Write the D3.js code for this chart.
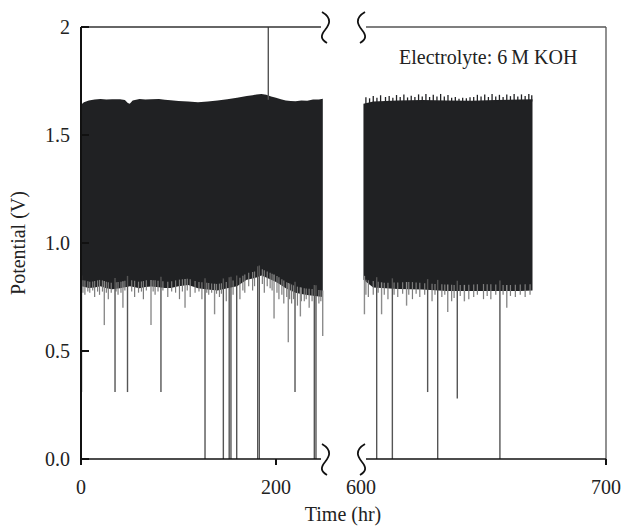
<!DOCTYPE html>
<html>
<head>
<meta charset="utf-8">
<script src="https://cdn.jsdelivr.net/npm/d3@7"></script>
<style>
  body { margin: 0; background: #fff; }
  text { font-family: "Liberation Serif", "DejaVu Serif", serif; fill: #222; }
</style>
</head>
<body>
<div id="chart"></div>
<script>
// envelopes of the cycling band [time hr, potential V]
const leftUpper = [[0,1.64],[3,1.652],[8,1.66],[14,1.664],[20,1.667],[26,1.664],[32,1.666],[40,1.666],[45,1.662],[48,1.648],[50,1.645],[53,1.66],[60,1.667],[66,1.664],[72,1.666],[80,1.667],[86,1.663],[92,1.661],[100,1.657],[110,1.655],[120,1.652],[130,1.655],[140,1.66],[150,1.665],[160,1.672],[170,1.68],[176,1.684],[180,1.688],[185,1.69],[190,1.686],[195,1.678],[200,1.673],[205,1.666],[210,1.66],[215,1.657],[220,1.656],[226,1.66],[232,1.658],[238,1.664],[244,1.664],[248,1.668]];
const leftLower = [[0,0.80],[10,0.79],[20,0.80],[30,0.785],[40,0.79],[50,0.80],[60,0.79],[70,0.80],[80,0.795],[90,0.79],[100,0.80],[110,0.805],[120,0.79],[130,0.785],[140,0.78],[150,0.79],[160,0.80],[170,0.83],[180,0.84],[185,0.85],[190,0.84],[200,0.82],[210,0.79],[220,0.77],[230,0.76],[240,0.755],[248,0.75]];
const rightUpper = [[601,1.645],[605,1.655],[615,1.66],[625,1.662],[635,1.66],[645,1.658],[655,1.662],[665,1.664],[670,1.665]];
const rightLower = [[601,0.83],[602,0.80],[610,0.785],[620,0.79],[630,0.78],[640,0.775],[650,0.78],[660,0.775],[670,0.78]];
// narrow upward teeth on the right band [time hr, peak V]
const rightTeeth = [[602,1.675],[603.5,1.67],[605,1.68],[606.5,1.672],[608,1.684],[610,1.676],[611.5,1.68],[613,1.672],[614.5,1.685],[616,1.676],[617.5,1.688],[619,1.674],[620.5,1.682],[622,1.676],[623.5,1.688],[625,1.678],[626.5,1.69],[628,1.676],[629.5,1.686],[631,1.678],[632.5,1.69],[634,1.678],[635.5,1.685],[637,1.672],[638.5,1.676],[640,1.668],[641.5,1.672],[643,1.67],[644.5,1.675],[646,1.676],[647.5,1.686],[649,1.678],[650.5,1.688],[652,1.676],[653.5,1.69],[655,1.678],[656.5,1.686],[658,1.676],[659.5,1.688],[661,1.68],[662.5,1.69],[664,1.678],[665.5,1.688],[667,1.68],[668.5,1.69],[669.7,1.684]];

// downward drops [time hr, lowest potential V]
const deepDrops = [[0.5,0.31],[34.9,0.31],[47.7,0.31],[82,0.31],[127.2,0],[146,0],[152,0],[153.8,0],[159.7,0],[181.2,0],[182.9,0],[219.5,0.31],[239.3,0],[241,0],
  [606.4,0],[612.8,0],[627.2,0.31],[631.3,0],[639.3,0.28],[656.7,0]];
const midDrops = [[23.9,0.62],[43,0.70],[71.8,0.62],[106.7,0.70],[137,0.67],[198,0.65],[212.6,0.54],[225,0.66],[247.9,0.57],
  [601.4,0.67],[608.4,0.67],[618.6,0.71],[635.4,0.68],[642.2,0.73],[659.5,0.70]];
const smallDrops = [[2,0.77],[4,0.76],[7,0.775],[9,0.77],[12,0.78],[14,0.75],[17,0.775],[19,0.76],[22,0.775],[26,0.77],[28,0.74],[31,0.77],[36,0.775],[38,0.76],[41,0.77],[45,0.78],[52,0.775],[55,0.75],[59,0.77],[62,0.775],[64,0.74],[67,0.78],[74,0.775],[76,0.76],[79,0.775],[84,0.78],[89,0.75],[93,0.775],[97,0.77],[101,0.74],[104,0.775],[109,0.78],[112,0.75],[117,0.77],[121,0.775],[124,0.74],[129,0.77],[131,0.76],[134,0.77],[139,0.765],[142,0.75],[144,0.765],[149,0.73],[156,0.76],[163,0.74],[166,0.78],[168,0.77],[172,0.8],[176,0.78],[178,0.8],[186,0.81],[188,0.77],[191,0.8],[194,0.79],[196,0.78],[201,0.77],[203,0.74],[206,0.76],[208,0.72],[211,0.75],[214,0.74],[216,0.72],[218,0.74],[222,0.71],[226,0.73],[229,0.73],[231,0.74],[234,0.70],[237,0.73],[244,0.72],[246,0.73],
  [602,0.76],[603,0.75],[605,0.76],[607,0.77],[609.5,0.76],[611,0.74],[613.5,0.76],[615,0.75],[617,0.765],[619.5,0.76],[621,0.74],[622.5,0.765],[624,0.75],[626,0.76],[629,0.73],[630.2,0.76],[633,0.75],[634.2,0.76],[637,0.73],[638,0.745],[640.5,0.755],[644,0.74],[646,0.75],[647.5,0.76],[650,0.74],[651.5,0.755],[653,0.74],[655,0.76],[658,0.76],[661,0.755],[663,0.75],[665,0.76],[667,0.75],[669,0.76]];
const upDrops = [[192.1,2.0]];

const yTicks = [0, 0.5, 1.0, 1.5, 2];
const yTickLabels = ["0.0", "0.5", "1.0", "1.5", "2"];
const leftTicks = [0, 200];
const rightTicks = [600, 700];

const width = 624, height = 526;
const plotTop = 27, plotBottom = 459, plotLeft = 81, plotRight = 606;

const svg = d3.select("#chart").append("svg")
    .attr("width", width).attr("height", height);

const y = d3.scaleLinear().domain([0, 2]).range([plotBottom, plotTop]);
const xL = d3.scaleLinear().domain([0, 250]).range([plotLeft, 324.75]);
const xR = d3.scaleLinear().domain([600, 700]).range([361, plotRight]);

// clip each panel
const defs = svg.append("defs");
defs.append("clipPath").attr("id", "clipL").append("rect")
    .attr("x", plotLeft).attr("y", plotTop).attr("width", 324 - plotLeft).attr("height", plotBottom - plotTop);
defs.append("clipPath").attr("id", "clipR").append("rect")
    .attr("x", 361).attr("y", plotTop).attr("width", plotRight - 361).attr("height", plotBottom - plotTop);

const bandColor = "#202123";

function drawPanel(x, upper, lower, teeth, clip, lo, hi) {
    let g = svg.append("g").attr("clip-path", `url(#${clip})`);
    let inPanel = d => d[0] >= lo && d[0] <= hi;
    // band as area between lower and upper envelope
    let lowAt = d3.scaleLinear().domain(lower.map(e => e[0])).range(lower.map(e => e[1])).clamp(true);
    let highAt = d3.scaleLinear().domain(upper.map(e => e[0])).range(upper.map(e => e[1])).clamp(true);
    let band = upper.map(d => ({ t: d[0], hi: d[1], lo: lowAt(d[0]) }));
    g.append("path")
        .datum(band)
        .attr("fill", bandColor)
        .attr("d", d3.area().x(d => x(d.t)).y0(d => y(d.lo)).y1(d => y(d.hi)));

    g.selectAll(".tooth").data(teeth).join("line")
        .attr("x1", d => x(d[0])).attr("x2", d => x(d[0]))
        .attr("y1", d => y(highAt(d[0]) - 0.01)).attr("y2", d => y(d[1]))
        .attr("stroke", bandColor).attr("stroke-width", 1.3);

    g.selectAll(".small").data(smallDrops.filter(inPanel)).join("line")
        .attr("x1", d => x(d[0])).attr("x2", d => x(d[0]))
        .attr("y1", d => y(lowAt(d[0]) + 0.03)).attr("y2", d => y(d[1]))
        .attr("stroke", "#7d7d7d").attr("stroke-width", 1.2);
    g.selectAll(".mid").data(midDrops.filter(inPanel)).join("line")
        .attr("x1", d => x(d[0])).attr("x2", d => x(d[0]))
        .attr("y1", d => y(lowAt(d[0]) + 0.03)).attr("y2", d => y(d[1]))
        .attr("stroke", "#8c8c8c").attr("stroke-width", 1.4);
    g.selectAll(".deep").data(deepDrops.filter(inPanel)).join("line")
        .attr("x1", d => x(d[0])).attr("x2", d => x(d[0]))
        .attr("y1", d => y(lowAt(d[0]) + 0.05)).attr("y2", d => y(d[1]))
        .attr("stroke", "#555").attr("stroke-width", 1.4);
    g.selectAll(".up").data(upDrops.filter(inPanel)).join("line")
        .attr("x1", d => x(d[0])).attr("x2", d => x(d[0]))
        .attr("y1", d => y(highAt(d[0]) - 0.02)).attr("y2", d => y(d[1]))
        .attr("stroke", "#555").attr("stroke-width", 1.4);
}

drawPanel(xL, leftUpper, leftLower, [], "clipL", 0, 250);
drawPanel(xR, rightUpper, rightLower, rightTeeth, "clipR", 600, 700);

// frame
const frame = svg.append("g").attr("fill", "none");
frame.append("line").attr("x1", plotLeft).attr("x2", plotLeft).attr("y1", plotTop).attr("y2", plotBottom + 6)
    .attr("stroke", "#111").attr("stroke-width", 2);
frame.append("line").attr("x1", plotLeft).attr("x2", 321).attr("y1", plotTop).attr("y2", plotTop)
    .attr("stroke", "#333").attr("stroke-width", 1.3);
frame.append("line").attr("x1", 366).attr("x2", plotRight).attr("y1", plotTop).attr("y2", plotTop)
    .attr("stroke", "#555").attr("stroke-width", 1.3);
frame.append("line").attr("x1", plotRight).attr("x2", plotRight).attr("y1", plotTop).attr("y2", plotBottom)
    .attr("stroke", "#555").attr("stroke-width", 1.3);
frame.append("line").attr("x1", plotLeft).attr("x2", 321).attr("y1", plotBottom).attr("y2", plotBottom)
    .attr("stroke", "#111").attr("stroke-width", 1.5);
frame.append("line").attr("x1", 366).attr("x2", plotRight).attr("y1", plotBottom).attr("y2", plotBottom)
    .attr("stroke", "#111").attr("stroke-width", 1.5);

// break marks
function squiggle(cx, cy, dir) {
    let p = d3.path();
    p.moveTo(cx - 3 * dir, cy - 15);
    p.bezierCurveTo(cx + 9 * dir, cy - 8, cx + 3 * dir, cy - 1, cx, cy + 3);
    p.bezierCurveTo(cx - 4 * dir, cy + 8, cx - 5 * dir, cy + 12, cx + 2 * dir, cy + 16);
    return p.toString();
}
[[325, plotTop, 1], [362, plotTop, -1], [325, plotBottom, 1], [362, plotBottom, -1]].forEach(function (s) {
    frame.append("path").attr("d", squiggle(s[0], s[1], s[2]))
        .attr("stroke", "#111").attr("stroke-width", 1.8);
});

// y ticks
svg.selectAll(".ytick").data(yTicks).join("line")
    .attr("x1", plotLeft).attr("x2", plotLeft + 8)
    .attr("y1", d => y(d)).attr("y2", d => y(d))
    .attr("stroke", "#111").attr("stroke-width", 2);
svg.selectAll(".ylab").data(yTicks).join("text")
    .attr("x", 70).attr("y", d => y(d) + 7)
    .attr("text-anchor", "end").attr("font-size", 20)
    .text((d, i) => yTickLabels[i]);

// x ticks
function xTicks(x, ticks, showLine) {
    svg.selectAll(null).data(ticks).join("line")
        .attr("x1", d => x(d)).attr("x2", d => x(d))
        .attr("y1", plotBottom).attr("y2", plotBottom + 6)
        .attr("stroke", d => showLine(d) ? "#111" : "none").attr("stroke-width", 2);
    svg.selectAll(null).data(ticks).join("text")
        .attr("x", d => x(d)).attr("y", 494)
        .attr("text-anchor", "middle").attr("font-size", 20)
        .text(d => d);
}
xTicks(xL, leftTicks, d => true);
xTicks(xR, rightTicks, d => d !== 600);

svg.append("text").attr("x", 343).attr("y", 521)
    .attr("text-anchor", "middle").attr("font-size", 20).text("Time (hr)");
svg.append("text")
    .attr("transform", `translate(25, ${y(1)}) rotate(-90)`)
    .attr("text-anchor", "middle").attr("font-size", 20).text("Potential (V)");
svg.append("text").attr("x", 399).attr("y", 64)
    .attr("font-size", 20).text("Electrolyte: 6\u2009M KOH");
</script>
</body>
</html>
